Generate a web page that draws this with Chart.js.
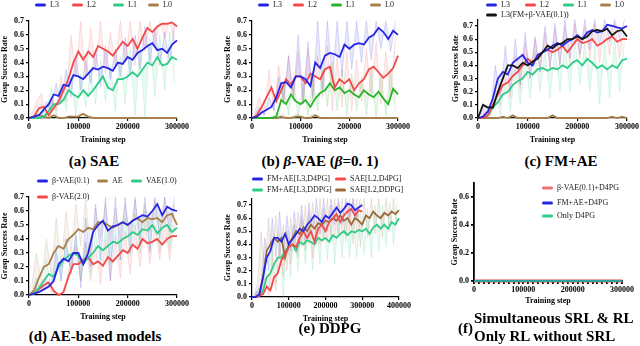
<!DOCTYPE html>
<html>
<head>
<meta charset="utf-8">
<script src="https://cdn.jsdelivr.net/npm/chart.js@4.4.1/dist/chart.umd.min.js"></script>
<style>
  body { margin: 0; background: #fff; }
  #page { position: relative; width: 640px; height: 346px; overflow: hidden; font-family: "Liberation Serif", "Times New Roman", serif; }
  canvas { position: absolute; }
  .txt { position: absolute; white-space: nowrap; transform: translateY(-50%); line-height: 1; }
  .leg { font-size: 8px; color: #222; }
  .cap { font-size: 15px; font-weight: bold; color: #000; }
  .mk { position: absolute; height: 3px; border-radius: 1.5px; transform: translateY(-50%); }
</style>
</head>
<body>
<div id="page"></div>
<script>
// Training steps (x values)
const steps400 = [0, 10000, 20000, 30000, 40000, 50000, 60000, 70000, 80000, 90000,
  100000, 110000, 120000, 130000, 140000, 150000, 160000, 170000, 180000, 190000,
  200000, 210000, 220000, 230000, 240000, 250000, 260000, 270000, 280000, 290000,
  300000, 310000, 320000, 330000, 340000, 350000, 360000, 370000, 380000, 390000,
  400000];
const steps300 = steps400.slice(0, 31);
const rawSteps400 = [5000, 15000, 25000, 35000, 45000, 55000, 65000, 75000, 85000, 95000,
  105000, 115000, 125000, 135000, 145000, 155000, 165000, 175000, 185000, 195000,
  205000, 215000, 225000, 235000, 245000, 255000, 265000, 275000, 285000, 295000,
  305000, 315000, 325000, 335000, 345000, 355000, 365000, 375000, 385000, 395000];
const rawSteps300 = rawSteps400.slice(0, 30);

// (a) SAE
const aL3 = [0, 0.01, 0.02, 0.06, 0.1, 0.17, 0.16, 0.24, 0.23, 0.31,
  0.3, 0.28, 0.32, 0.36, 0.35, 0.37, 0.36, 0.34, 0.4, 0.39,
  0.44, 0.42, 0.47, 0.49, 0.52, 0.54, 0.49, 0.5, 0.47, 0.53, 0.56];
const aL3raw = [0.01, 0.03, 0.0, 0.12, 0.05, 0.25, 0.1, 0.35, 0.15, 0.45,
  0.2, 0.42, 0.25, 0.5, 0.22, 0.52, 0.28, 0.5, 0.3, 0.58,
  0.32, 0.6, 0.35, 0.66, 0.4, 0.65, 0.38, 0.62, 0.4, 0.68];
const aL2 = [0, 0.01, 0.07, 0.08, 0.02, 0.07, 0.12, 0.2, 0.28, 0.4,
  0.48, 0.42, 0.48, 0.44, 0.52, 0.5, 0.48, 0.45, 0.5, 0.55,
  0.52, 0.57, 0.5, 0.58, 0.65, 0.62, 0.66, 0.68, 0.68, 0.69, 0.66];
const aL2raw = [0.02, 0.12, 0.18, 0.0, 0.15, 0.05, 0.3, 0.12, 0.6, 0.3,
  0.7, 0.28, 0.65, 0.35, 0.7, 0.32, 0.62, 0.38, 0.7, 0.4,
  0.7, 0.38, 0.7, 0.48, 0.7, 0.52, 0.7, 0.58, 0.7, 0.55];
const aL1 = [0, 0, 0, 0.01, 0.05, 0.1, 0.1, 0.13, 0.2, 0.17,
  0.15, 0.2, 0.16, 0.2, 0.25, 0.3, 0.22, 0.2, 0.28, 0.28,
  0.3, 0.33, 0.3, 0.35, 0.4, 0.38, 0.44, 0.38, 0.39, 0.44, 0.42];
const aL1raw = [0, 0.02, 0.1, 0.0, 0.22, 0.02, 0.25, 0.05, 0.3, 0.02,
  0.32, 0.08, 0.35, 0.1, 0.42, 0.12, 0.38, 0.05, 0.45, 0.1,
  0.5, 0.02, 0.52, 0.0, 0.58, 0.15, 0.6, 0.2, 0.62, 0.25];
const aL0 = [0, 0.01, 0.02, 0.01, 0, 0.02, 0, 0, 0.01, 0.01,
  0.01, 0.03, 0.01, 0, 0, 0, 0, 0, 0, 0,
  0, 0, 0, 0, 0, 0, 0, 0, 0, 0, 0];
const aL0raw = [0, 0.03, 0, 0.02, 0, 0.03, 0, 0, 0.02, 0,
  0.04, 0, 0.02, 0, 0, 0, 0, 0, 0, 0,
  0, 0, 0, 0, 0, 0, 0, 0, 0, 0];

// (b) beta-VAE (0.1)
const bL3 = [0, 0.01, 0.04, 0.06, 0.08, 0.15, 0.25, 0.26, 0.22, 0.3,
  0.3, 0.28, 0.23, 0.4, 0.36, 0.45, 0.47, 0.46, 0.44, 0.53,
  0.5, 0.53, 0.54, 0.53, 0.58, 0.6, 0.65, 0.62, 0.57, 0.63, 0.6];
const bL3raw = [0.02, 0.08, 0.02, 0.15, 0.05, 0.3, 0.12, 0.45, 0.15, 0.6,
  0.1, 0.55, 0.15, 0.7, 0.2, 0.7, 0.25, 0.7, 0.3, 0.7,
  0.35, 0.7, 0.4, 0.7, 0.42, 0.7, 0.5, 0.7, 0.48, 0.7];
const bL2 = [0, 0.02, 0.08, 0.15, 0.22, 0.12, 0.2, 0.28, 0.24, 0.3,
  0.3, 0.25, 0.32, 0.3, 0.28, 0.35, 0.37, 0.22, 0.28, 0.25,
  0.28, 0.2, 0.25, 0.28, 0.35, 0.37, 0.33, 0.29, 0.32, 0.36, 0.45];
const bL2raw = [0.04, 0.15, 0.02, 0.35, 0.05, 0.38, 0.1, 0.45, 0.12, 0.48,
  0.1, 0.5, 0.12, 0.45, 0.15, 0.52, 0.05, 0.45, 0.08, 0.48,
  0.05, 0.42, 0.12, 0.5, 0.15, 0.55, 0.1, 0.48, 0.15, 0.6];
const bL1 = [0, 0, 0, 0, 0, 0.01, 0.13, 0.1, 0.17, 0.12,
  0.1, 0.13, 0.08, 0.14, 0.18, 0.2, 0.25, 0.2, 0.22, 0.18,
  0.2, 0.17, 0.15, 0.2, 0.17, 0.15, 0.19, 0.14, 0.1, 0.21, 0.17];
const bL1raw = [0, 0, 0, 0, 0.02, 0.05, 0.25, 0.02, 0.3, 0.0,
  0.25, 0.02, 0.28, 0.05, 0.35, 0.08, 0.4, 0.05, 0.35, 0.02,
  0.32, 0.05, 0.3, 0.02, 0.35, 0.0, 0.32, 0.02, 0.35, 0.05];
const bL0 = [0, 0, 0, 0, 0, 0, 0.01, 0, 0, 0.01,
  0.01, 0, 0, 0.02, 0, 0, 0, 0, 0, 0,
  0, 0, 0, 0, 0, 0, 0, 0, 0, 0, 0];
const bL0raw = [0, 0, 0, 0, 0, 0.02, 0.03, 0, 0.02, 0.03,
  0, 0.01, 0.03, 0.02, 0, 0, 0, 0, 0, 0,
  0, 0, 0, 0, 0, 0, 0, 0, 0, 0];

// (c) FM+AE
const cL3 = [0, 0.01, 0.05, 0.15, 0.3, 0.35, 0.33, 0.42, 0.45, 0.48,
  0.42, 0.4, 0.48, 0.5, 0.52, 0.55, 0.57, 0.55, 0.58, 0.6,
  0.63, 0.6, 0.65, 0.67, 0.65, 0.66, 0.71, 0.7, 0.69, 0.68, 0.7];
const cL3raw = [0.02, 0.1, 0.05, 0.4, 0.15, 0.55, 0.2, 0.6, 0.25, 0.65,
  0.3, 0.62, 0.35, 0.7, 0.38, 0.72, 0.4, 0.75, 0.45, 0.75,
  0.48, 0.75, 0.52, 0.75, 0.55, 0.75, 0.58, 0.75, 0.6, 0.75];
const cL2 = [0, 0, 0.02, 0.1, 0.18, 0.25, 0.27, 0.32, 0.35, 0.4,
  0.45, 0.42, 0.47, 0.5, 0.52, 0.5, 0.52, 0.55, 0.5, 0.55,
  0.6, 0.57, 0.58, 0.6, 0.55, 0.57, 0.6, 0.62, 0.58, 0.6, 0.6];
const cL2raw = [0, 0.05, 0.02, 0.25, 0.1, 0.38, 0.15, 0.48, 0.22, 0.58,
  0.3, 0.6, 0.35, 0.65, 0.38, 0.68, 0.4, 0.7, 0.42, 0.72,
  0.45, 0.7, 0.45, 0.72, 0.42, 0.7, 0.48, 0.72, 0.45, 0.7];
const cL1 = [0, 0, 0.02, 0.08, 0.12, 0.18, 0.2, 0.25, 0.28, 0.3,
  0.35, 0.33, 0.37, 0.38, 0.36, 0.38, 0.37, 0.4, 0.38, 0.42,
  0.44, 0.4, 0.45, 0.42, 0.38, 0.4, 0.37, 0.4, 0.38, 0.44, 0.45];
const cL1raw = [0, 0.02, 0.0, 0.2, 0.02, 0.3, 0.05, 0.4, 0.1, 0.45,
  0.15, 0.5, 0.2, 0.52, 0.15, 0.55, 0.2, 0.58, 0.2, 0.6,
  0.25, 0.58, 0.2, 0.55, 0.1, 0.58, 0.15, 0.6, 0.2, 0.62];
const cL0 = [0, 0, 0, 0, 0, 0.01, 0, 0.02, 0, 0,
  0, 0, 0, 0, 0, 0.02, 0, 0, 0, 0,
  0, 0, 0, 0, 0, 0, 0, 0.01, 0, 0.01, 0];
const cL3fmvae = [0, 0.1, 0.08, 0.08, 0.2, 0.3, 0.4, 0.4, 0.38, 0.42,
  0.4, 0.43, 0.45, 0.5, 0.55, 0.53, 0.56, 0.57, 0.6, 0.6,
  0.62, 0.6, 0.62, 0.66, 0.67, 0.66, 0.68, 0.63, 0.66, 0.67, 0.62];

// (d) AE-based models
const dBvae01 = [0, 0.01, 0.02, 0.04, 0.06, 0.1, 0.22, 0.26, 0.24, 0.3,
  0.3, 0.22, 0.3, 0.45, 0.5, 0.53, 0.46, 0.49, 0.5, 0.52,
  0.5, 0.53, 0.55, 0.57, 0.56, 0.6, 0.65, 0.57, 0.63, 0.61, 0.6];
const dBvae01raw = [0.02, 0.05, 0.02, 0.1, 0.05, 0.35, 0.1, 0.4, 0.15, 0.45,
  0.05, 0.55, 0.2, 0.65, 0.25, 0.7, 0.1, 0.7, 0.25, 0.7,
  0.3, 0.7, 0.35, 0.7, 0.3, 0.7, 0.4, 0.7, 0.45, 0.7];
const dAE = [0, 0.03, 0.12, 0.2, 0.22, 0.3, 0.35, 0.33, 0.4, 0.43,
  0.47, 0.45, 0.48, 0.47, 0.52, 0.52, 0.5, 0.48, 0.5, 0.52,
  0.5, 0.53, 0.55, 0.52, 0.55, 0.54, 0.55, 0.52, 0.57, 0.58, 0.5];
const dAEraw = [0.05, 0.3, 0.1, 0.4, 0.15, 0.55, 0.2, 0.6, 0.3, 0.65,
  0.35, 0.68, 0.3, 0.62, 0.4, 0.65, 0.38, 0.62, 0.4, 0.65,
  0.42, 0.68, 0.4, 0.65, 0.45, 0.68, 0.42, 0.7, 0.4, 0.65];
const dVae10 = [0, 0.01, 0.05, 0.1, 0.15, 0.13, 0.2, 0.25, 0.28, 0.3,
  0.28, 0.22, 0.27, 0.3, 0.35, 0.32, 0.35, 0.38, 0.37, 0.4,
  0.42, 0.45, 0.43, 0.47, 0.46, 0.5, 0.44, 0.48, 0.5, 0.45, 0.48];
const dVae10raw = [0.02, 0.12, 0.02, 0.25, 0.05, 0.3, 0.1, 0.4, 0.15, 0.42,
  0.1, 0.38, 0.15, 0.45, 0.2, 0.48, 0.22, 0.5, 0.25, 0.55,
  0.28, 0.58, 0.3, 0.6, 0.32, 0.62, 0.3, 0.6, 0.32, 0.6];
const dBvae20 = [0, 0.01, 0.04, 0.07, 0.09, 0.03, 0.0, 0.02, 0.13, 0.22,
  0.22, 0.25, 0.27, 0.22, 0.24, 0.21, 0.27, 0.24, 0.28, 0.32,
  0.3, 0.36, 0.33, 0.4, 0.37, 0.38, 0.4, 0.36, 0.4, 0.42, 0.42];
const dBvae20raw = [0.02, 0.06, 0.1, 0.12, 0.02, 0.0, 0.0, 0.1, 0.25, 0.35,
  0.1, 0.38, 0.1, 0.35, 0.08, 0.4, 0.1, 0.42, 0.12, 0.45,
  0.15, 0.5, 0.2, 0.52, 0.22, 0.5, 0.25, 0.55, 0.25, 0.5];

// (e) DDPG
const eFmD4 = [0, 0, 0.02, 0.15, 0.3, 0.35, 0.45, 0.45, 0.42, 0.48,
  0.4, 0.44, 0.48, 0.52, 0.5, 0.55, 0.58, 0.62, 0.6, 0.57,
  0.62, 0.6, 0.64, 0.68, 0.64, 0.67, 0.71, 0.7, 0.66, 0.68, 0.7];
const eFmD4raw = [0, 0.05, 0.1, 0.45, 0.2, 0.6, 0.3, 0.65, 0.3, 0.62,
  0.35, 0.65, 0.4, 0.7, 0.4, 0.72, 0.45, 0.75, 0.48, 0.75,
  0.5, 0.75, 0.55, 0.75, 0.55, 0.75, 0.6, 0.75, 0.6, 0.75];
const eSaeD4 = [0, 0, 0.01, 0.02, 0.08, 0.05, 0.15, 0.18, 0.28, 0.32,
  0.38, 0.4, 0.38, 0.45, 0.5, 0.45, 0.5, 0.42, 0.52, 0.55,
  0.5, 0.57, 0.6, 0.63, 0.57, 0.62, 0.65, 0.67, 0.62, 0.66, 0.65];
const eSaeD4raw = [0, 0.02, 0.05, 0.15, 0.02, 0.3, 0.05, 0.42, 0.15, 0.5,
  0.25, 0.55, 0.3, 0.62, 0.35, 0.65, 0.3, 0.62, 0.4, 0.68,
  0.42, 0.7, 0.45, 0.72, 0.48, 0.72, 0.5, 0.75, 0.5, 0.72];
const eFmDd = [0, 0, 0.01, 0.05, 0.15, 0.18, 0.25, 0.3, 0.3, 0.35,
  0.38, 0.4, 0.35, 0.42, 0.4, 0.43, 0.42, 0.4, 0.45, 0.43,
  0.45, 0.42, 0.47, 0.45, 0.48, 0.5, 0.47, 0.5, 0.49, 0.51,
  0.5, 0.52, 0.48, 0.53, 0.55, 0.52, 0.55, 0.52, 0.57, 0.55, 0.6];
const eFmDdraw = [0, 0.05, 0.02, 0.3, 0.05, 0.4, 0.1, 0.48, 0.0, 0.5,
  0.15, 0.55, 0.2, 0.58, 0.25, 0.6, 0.2, 0.58, 0.25, 0.62,
  0.28, 0.6, 0.25, 0.62, 0.3, 0.65, 0.3, 0.62, 0.3, 0.65,
  0.32, 0.68, 0.3, 0.7, 0.35, 0.7, 0.38, 0.72, 0.4, 0.72];
const eSaeDd = [0, 0, 0.02, 0.15, 0.35, 0.4, 0.45, 0.42, 0.45, 0.3,
  0.4, 0.45, 0.5, 0.48, 0.53, 0.5, 0.55, 0.52, 0.56, 0.55,
  0.58, 0.57, 0.6, 0.58, 0.62, 0.58, 0.6, 0.55, 0.6, 0.58,
  0.55, 0.62, 0.6, 0.65, 0.62, 0.6, 0.64, 0.62, 0.65, 0.63, 0.66];
const eSaeDdraw = [0.02, 0.1, 0.5, 0.2, 0.6, 0.3, 0.62, 0.3, 0.55, 0.2,
  0.6, 0.35, 0.65, 0.38, 0.7, 0.4, 0.72, 0.4, 0.75, 0.42,
  0.75, 0.45, 0.75, 0.45, 0.75, 0.42, 0.75, 0.4, 0.75, 0.38,
  0.75, 0.45, 0.75, 0.48, 0.75, 0.45, 0.75, 0.5, 0.75, 0.55];

// (f) Simultaneous SRL & RL / Only RL
const fSteps = [0, 300000];
const fBvaeD4 = [0, 0];
const fFmD4 = [0, 0];
const fOnlyD4 = [0, 0];

const BLUE = '#2626e2', RED = '#f04a4a', GREEN = '#2fcc86', DKGREEN = '#2ab42a',
  BROWN = '#a8804c', DKBROWN = '#9a6a3c', BLACK = '#151515';

const page = document.getElementById('page');

function fade(hex, a) {
  const n = parseInt(hex.slice(1), 16);
  return `rgba(${(n >> 16) & 255}, ${(n >> 8) & 255}, ${n & 255}, ${a})`;
}

function line(xs, ys, color, width) {
  return {
    data: xs.map((x, i) => ({ x: x, y: ys[i] })),
    borderColor: color, borderWidth: width || 1.8,
    pointRadius: 0, tension: 0, order: 0, clip: 4, fill: false
  };
}

// noisy raw trace, shaded back to its smoothed line (dataset index `target`)
function raw(xs, ys, color, target) {
  return {
    data: xs.map((x, i) => ({ x: x, y: ys[i] })),
    borderColor: fade(color, 0.2), borderWidth: 0.8,
    backgroundColor: fade(color, 0.1),
    fill: { target: target },
    pointRadius: 0, tension: 0, order: 10, clip: 4
  };
}

// box = canvas [left, top, width, height]; area = plot [left, top, right, bottom]
function makeChart(p) {
  const [bx, by, bw, bh] = p.box;
  const [ax0, ay0, ax1, ay1] = p.area;
  const cv = document.createElement('canvas');
  cv.width = bw; cv.height = bh;
  cv.style.left = bx + 'px'; cv.style.top = by + 'px';
  page.appendChild(cv);
  const axisW = p.axisWidth || 1.2;
  const tickFont = { family: 'Liberation Serif', size: 8, weight: 'bold' };
  new Chart(cv, {
    type: 'line',
    data: { datasets: p.datasets },
    options: {
      responsive: false, animation: false, devicePixelRatio: 1,
      layout: { padding: { left: 0, top: ay0 - by, right: bx + bw - ax1, bottom: 0 } },
      plugins: { legend: { display: false }, tooltip: { enabled: false }, filler: { propagate: false } },
      scales: {
        x: {
          type: 'linear', min: 0, max: p.xMax,
          afterFit: s => { s.height = by + bh - ay1; },
          border: { display: true, color: '#000', width: axisW },
          grid: { display: true, drawOnChartArea: false, drawTicks: true, tickLength: 3, color: '#000', lineWidth: axisW },
          ticks: {
            stepSize: p.xStep || 100000, color: '#000', font: tickFont, padding: 1, maxRotation: 0, autoSkip: false,
            callback: v => (v % 100000 === 0 ? String(v) : '')
          },
          title: { display: true, text: 'Training step', color: '#000', padding: 0,
            font: { family: 'Liberation Serif', size: 8, weight: 'bold' } }
        },
        y: {
          min: 0, max: p.yMax,
          afterFit: s => { s.width = ax0 - bx; },
          border: { display: true, color: '#000', width: axisW },
          grid: { display: true, drawOnChartArea: false, drawTicks: true, tickLength: 3, color: '#000', lineWidth: axisW },
          ticks: { stepSize: p.yStep || 0.1, includeBounds: false, color: '#000', font: tickFont, padding: 2, autoSkip: false,
            callback: v => v.toFixed(1) },
          title: { display: true, text: 'Grasp Success Rate', color: '#000', padding: 0,
            font: { family: 'Liberation Serif', size: 8, weight: 'bold' } }
        }
      }
    }
  });
}

function legend(items) {
  items.forEach(([mx, y, color, label]) => {
    const mk = document.createElement('div');
    mk.className = 'mk';
    mk.style.left = mx + 'px'; mk.style.top = y + 'px'; mk.style.width = '11px';
    mk.style.background = color;
    page.appendChild(mk);
    const t = document.createElement('div');
    t.className = 'txt leg';
    t.style.left = (mx + 15) + 'px'; t.style.top = y + 'px';
    t.textContent = label;
    page.appendChild(t);
  });
}

function caption(x, y, html, centered) {
  const t = document.createElement('div');
  t.className = 'txt cap';
  t.style.top = y + 'px';
  t.style.left = x + 'px';
  if (centered) t.style.transform = 'translate(-50%, -50%)';
  t.innerHTML = html;
  page.appendChild(t);
}

// (a)
makeChart({
  box: [0, 0, 205, 145], area: [29, 21, 177, 118], xMax: 300000, yMax: 0.7,
  datasets: [
    line(steps300, aL3, BLUE), line(steps300, aL2, RED), line(steps300, aL1, GREEN), line(steps300, aL0, BROWN),
    raw(rawSteps300, aL3raw, BLUE, 0), raw(rawSteps300, aL2raw, RED, 1), raw(rawSteps300, aL1raw, GREEN, 2), raw(rawSteps300, aL0raw, BROWN, 3)
  ]
});
legend([[35, 5, BLUE, 'L3'], [72, 5, RED, 'L2'], [113, 5, GREEN, 'L1'], [148, 5, BROWN, 'L0']]);
caption(94, 161, '(a) SAE', true);

// (b)
makeChart({
  box: [223, 0, 195, 145], area: [252, 21, 398, 118], xMax: 300000, yMax: 0.7,
  datasets: [
    line(steps300, bL3, BLUE), line(steps300, bL2, RED), line(steps300, bL1, DKGREEN), line(steps300, bL0, BROWN),
    raw(rawSteps300, bL3raw, BLUE, 0), raw(rawSteps300, bL2raw, RED, 1), raw(rawSteps300, bL1raw, DKGREEN, 2), raw(rawSteps300, bL0raw, BROWN, 3)
  ]
});
legend([[258, 5, BLUE, 'L3'], [293, 5, RED, 'L2'], [331, 5, DKGREEN, 'L1'], [370, 5, BROWN, 'L0']]);
caption(320, 161, '(b) <i>β</i>-VAE (<i>β</i>=0. 1)', true);

// (c)
makeChart({
  box: [451, 0, 189, 145], area: [478, 19.4, 627, 118], xMax: 300000, yMax: 0.75,
  datasets: [
    line(steps300, cL3fmvae, BLACK), line(steps300, cL3, BLUE), line(steps300, cL2, RED), line(steps300, cL1, GREEN), line(steps300, cL0, BROWN),
    raw(rawSteps300, cL3raw, BLUE, 1), raw(rawSteps300, cL2raw, RED, 2), raw(rawSteps300, cL1raw, GREEN, 3)
  ]
});
legend([[486, 5, BLUE, 'L3'], [525, 5, RED, 'L2'], [563, 5, GREEN, 'L1'], [600, 5, BROWN, 'L0'],
  [486, 15, BLACK, 'L3(FM+β-VAE(0.1))']]);
caption(561, 161, '(c) FM+AE', true);

// (d)
makeChart({
  box: [0, 173, 205, 149], area: [29, 197, 177, 295], xMax: 300000, yMax: 0.7,
  datasets: [
    line(steps300, dBvae01, BLUE), line(steps300, dAE, BROWN), line(steps300, dVae10, GREEN), line(steps300, dBvae20, RED),
    raw(rawSteps300, dBvae01raw, BLUE, 0), raw(rawSteps300, dAEraw, BROWN, 1), raw(rawSteps300, dVae10raw, GREEN, 2), raw(rawSteps300, dBvae20raw, RED, 3)
  ]
});
legend([[37, 181, BLUE, 'β-VAE(0.1)'], [97, 181, BROWN, 'AE'], [131, 181, GREEN, 'VAE(1.0)'],
  [37, 197, RED, 'β-VAE(2.0)']]);
caption(95, 336, '(d) AE-based models', true);

// (e)
makeChart({
  box: [223, 173, 195, 151], area: [252, 198.4, 399, 297], xMax: 400000, yMax: 0.75,
  datasets: [
    line(steps300, eFmD4, BLUE), line(steps300, eSaeD4, RED), line(steps400, eSaeDd, DKBROWN), line(steps400, eFmDd, GREEN),
    raw(rawSteps300, eFmD4raw, BLUE, 0), raw(rawSteps300, eSaeD4raw, RED, 1), raw(rawSteps400, eSaeDdraw, DKBROWN, 2), raw(rawSteps400, eFmDdraw, GREEN, 3)
  ]
});
legend([[252, 179, BLUE, 'FM+AE[L3,D4PG]'], [335, 179, RED, 'SAE[L2,D4PG]'],
  [252, 190, GREEN, 'FM+AE[L3,DDPG]'], [335, 190, DKBROWN, 'SAE[L2,DDPG]']]);
caption(330, 328, '(e) DDPG', true);

// (f)
makeChart({
  box: [450, 173, 190, 133], area: [474, 183, 622, 281], xMax: 300000, xStep: 10000, yMax: 0.7, yStep: 0.2,
  axisWidth: 1.8,
  datasets: [
    line(fSteps, fOnlyD4, GREEN, 1.5), line(fSteps, fFmD4, BLUE, 2), line(fSteps, fBvaeD4, RED, 3)
  ]
});
legend([[542, 188, '#f07070', 'β-VAE(0.1)+D4PG'], [542, 203, BLUE, 'FM+AE+D4PG'], [542, 216, GREEN, 'Only D4PG']]);
caption(458, 328, '(f)', false);
caption(474, 318, 'Simultaneous SRL &amp; RL', false);
caption(474, 336, 'Only RL without SRL', false);
</script>
</body>
</html>
